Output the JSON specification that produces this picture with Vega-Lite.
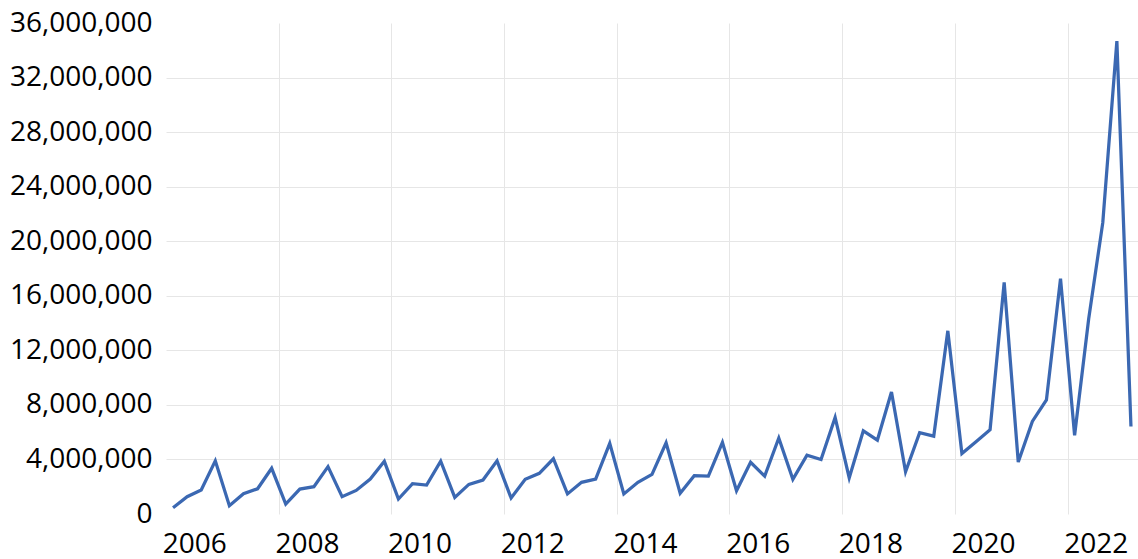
{
  "$schema": "https://vega.github.io/schema/vega-lite/v6.json",
  "width": 972,
  "height": 491,
  "autosize": {"type": "none"},
  "padding": {"left": 166, "top": 23, "right": 0, "bottom": 45},
  "background": "white",
  "config": {"view": {"stroke": null}},
  "data": {
    "values": [
      {"t": 2006.125, "v": 460000}, {"t": 2006.375, "v": 1270000}, {"t": 2006.625, "v": 1760000}, {"t": 2006.875, "v": 3900000},
      {"t": 2007.125, "v": 610000}, {"t": 2007.375, "v": 1490000}, {"t": 2007.625, "v": 1850000}, {"t": 2007.875, "v": 3350000},
      {"t": 2008.125, "v": 730000}, {"t": 2008.375, "v": 1830000}, {"t": 2008.625, "v": 2000000}, {"t": 2008.875, "v": 3470000},
      {"t": 2009.125, "v": 1270000}, {"t": 2009.375, "v": 1730000}, {"t": 2009.625, "v": 2560000}, {"t": 2009.875, "v": 3860000},
      {"t": 2010.125, "v": 1100000}, {"t": 2010.375, "v": 2220000}, {"t": 2010.625, "v": 2120000}, {"t": 2010.875, "v": 3870000},
      {"t": 2011.125, "v": 1220000}, {"t": 2011.375, "v": 2170000}, {"t": 2011.625, "v": 2490000}, {"t": 2011.875, "v": 3900000},
      {"t": 2012.125, "v": 1170000}, {"t": 2012.375, "v": 2540000}, {"t": 2012.625, "v": 2980000}, {"t": 2012.875, "v": 4050000},
      {"t": 2013.125, "v": 1470000}, {"t": 2013.375, "v": 2320000}, {"t": 2013.625, "v": 2560000}, {"t": 2013.875, "v": 5180000},
      {"t": 2014.125, "v": 1470000}, {"t": 2014.375, "v": 2320000}, {"t": 2014.625, "v": 2900000}, {"t": 2014.875, "v": 5220000},
      {"t": 2015.125, "v": 1520000}, {"t": 2015.375, "v": 2810000}, {"t": 2015.625, "v": 2780000}, {"t": 2015.875, "v": 5260000},
      {"t": 2016.125, "v": 1710000}, {"t": 2016.375, "v": 3790000}, {"t": 2016.625, "v": 2780000}, {"t": 2016.875, "v": 5570000},
      {"t": 2017.125, "v": 2540000}, {"t": 2017.375, "v": 4320000}, {"t": 2017.625, "v": 4000000}, {"t": 2017.875, "v": 7080000},
      {"t": 2018.125, "v": 2640000}, {"t": 2018.375, "v": 6100000}, {"t": 2018.625, "v": 5420000}, {"t": 2018.875, "v": 8940000},
      {"t": 2019.125, "v": 3100000}, {"t": 2019.375, "v": 5960000}, {"t": 2019.625, "v": 5710000}, {"t": 2019.875, "v": 13430000},
      {"t": 2020.125, "v": 4430000}, {"t": 2020.375, "v": 5300000}, {"t": 2020.625, "v": 6180000}, {"t": 2020.875, "v": 16980000},
      {"t": 2021.125, "v": 3810000}, {"t": 2021.375, "v": 6790000}, {"t": 2021.625, "v": 8360000}, {"t": 2021.875, "v": 17260000},
      {"t": 2022.125, "v": 5770000}, {"t": 2022.375, "v": 14310000}, {"t": 2022.625, "v": 21360000}, {"t": 2022.875, "v": 34680000},
      {"t": 2023.125, "v": 6420000}
    ]
  },
  "mark": {"type": "line", "color": "#3B68B2", "strokeWidth": 3.25, "strokeJoin": "miter", "clip": false},
  "encoding": {
    "x": {
      "field": "t",
      "type": "quantitative",
      "scale": {"domain": [2006, 2023.25], "nice": false, "zero": false},
      "axis": {
        "title": null,
        "values": [2006, 2008, 2010, 2012, 2014, 2016, 2018, 2020, 2022],
        "labelExpr": "format(datum.value, 'd')",
        "labelOffset": 28.2,
        "labelAlign": "center",
        "labelBaseline": "top",
        "labelPadding": 16,
        "labelFont": "Open Sans",
        "labelFontSize": 28,
        "labelColor": "#000000",
        "labelFlush": false,
        "labelOverlap": false,
        "ticks": false,
        "domain": false,
        "grid": true,
        "gridColor": "#E6E6E6",
        "gridWidth": 1,
        "gridOpacity": {"condition": {"test": "datum.value == 2006", "value": 0}, "value": 1}
      }
    },
    "y": {
      "field": "v",
      "type": "quantitative",
      "scale": {"domain": [0, 36000000], "nice": false},
      "axis": {
        "title": null,
        "values": [0, 4000000, 8000000, 12000000, 16000000, 20000000, 24000000, 28000000, 32000000, 36000000],
        "format": ",d",
        "labelPadding": 14,
        "labelFont": "Open Sans",
        "labelFontSize": 28,
        "labelColor": "#000000",
        "labelFlush": false,
        "labelOverlap": false,
        "ticks": false,
        "domain": false,
        "grid": true,
        "gridColor": "#E6E6E6",
        "gridWidth": 1,
        "gridOpacity": {"condition": {"test": "datum.value == 0 || datum.value == 36000000", "value": 0}, "value": 1}
      }
    }
  }
}
